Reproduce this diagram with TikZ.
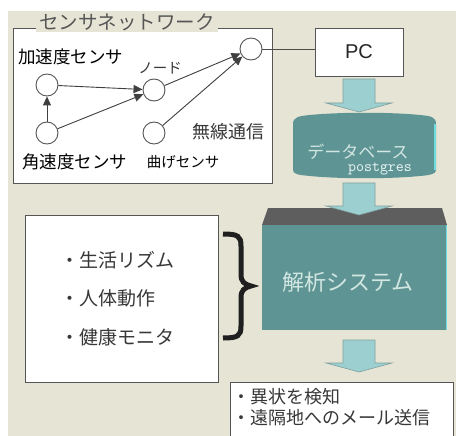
\documentclass[tikz,border=0pt]{standalone}
\usepackage{fontspec}
\setmainfont{Liberation Sans}
\newfontfamily\jp{Noto Sans CJK JP}
\usetikzlibrary{arrows.meta}
\definecolor{bg}{HTML}{E6E5D5}
\definecolor{tealbox}{HTML}{5E9594}
\definecolor{lteal}{HTML}{9CCFCF}
\definecolor{ltext}{HTML}{D2E6E2}
\definecolor{edgegrey}{HTML}{555555}
\definecolor{darkg}{HTML}{5E5E5E}
\definecolor{arredge}{HTML}{7F9F9F}
\definecolor{txtgrey}{HTML}{383838}
\begin{document}
\begin{tikzpicture}[x=1pt,y=-1pt,
  sens/.style={circle, draw=edgegrey, fill=white, minimum size=22pt, inner sep=0pt, line width=0.9pt},
  conn/.style={draw=black!75, line width=0.9pt, -{Triangle[length=9pt,width=8pt]}},
  whitebox/.style={draw=edgegrey, fill=white, line width=0.9pt, inner sep=0pt, anchor=north west},
  blockarrow/.style={fill=lteal, draw=arredge, line width=0.6pt},
  lbl/.style={inner sep=0pt, text=black},
  glbl/.style={inner sep=0pt, text=txtgrey}]
\useasboundingbox (0,0) rectangle (456,436);
\fill[white] (0,0) rectangle (456,436);
\fill[bg] (8,11) rectangle (456,436);

% sensor network box
\node[whitebox, minimum width=259pt, minimum height=155pt] (net) at (13,28) {};
\node[fill=bg, inner xsep=3pt, inner ysep=1pt, text=txtgrey!85, font=\jp\fontsize{19.5}{19.5}\selectfont] (title) at (127,22) {センサネットワーク};

\node[sens] (acc) at (47,85) {};
\node[sens] (gyro) at (47,133) {};
\node[sens] (nd) at (154,90) {};
\node[sens] (bend) at (154,133) {};
\node[sens] (sink) at (251,49) {};

\node[lbl, font=\jp\fontsize{17.5}{17.5}\selectfont] (acclbl) at (71,57) {加速度センサ};
\node[lbl, font=\jp\fontsize{17.5}{17.5}\selectfont] (gyrolbl) at (75,162) {角速度センサ};
\node[lbl, font=\jp\fontsize{14.5}{14.5}\selectfont] (bendlbl) at (183,162) {曲げセンサ};
\node[glbl, font=\jp\fontsize{14.5}{14.5}\selectfont] (ndlbl) at (160,68) {ノード};
\node[glbl, font=\jp\fontsize{18}{18}\selectfont] (wlbl) at (228,132) {無線通信};

\draw[conn] (acc) -- (nd);
\draw[conn] (gyro) -- (acc);
\draw[conn] (gyro) -- (nd);
\draw[conn] (nd) -- (sink);
\draw[conn] (bend) -- (sink);

% PC
\node[whitebox, minimum width=88pt, minimum height=48pt] (pc) at (315,28) {};
\node[lbl, text=black!85, font=\fontsize{20}{20}\selectfont] (pctext) at (359,52) {PC};
\draw[draw=black!70, line width=0.8pt] (sink) -- (pc.west |- sink);

% arrow PC -> DB
\draw[blockarrow] (343,79) -- (375,79) -- (375,103) -- (392,103) -- (359,112) -- (326,103) -- (343,103) -- cycle;

% database
\fill[tealbox] (293,170) -- (293,124) .. controls (293,117) and (299,116) .. (310,115)
  .. controls (340,112) and (390,112) .. (420,115) .. controls (431,116) and (436,117) .. (436,124)
  -- (436,170) .. controls (436,174) and (431,175) .. (420,176)
  .. controls (390,179) and (340,179) .. (310,176) .. controls (298,175) and (293,174) .. (293,170) -- cycle;
\draw[lteal!70!cyan, line width=1.5pt] (435,124) -- (435,170);
\node[inner sep=0pt, text=ltext, font=\jp\fontsize{17}{17}\selectfont] (dbtext) at (358,152) {データベース};
\node[inner sep=0pt, text=white!92!teal, font=\ttfamily\fontsize{15.5}{15.5}\selectfont] (pg) at (380,169) {postgres};

% analysis system
\fill[darkg] (268,208) -- (442,208) -- (447,225) -- (262,225) -- cycle;
\node[fill=tealbox, minimum width=185pt, minimum height=105pt, inner sep=0pt, anchor=north west] (ana) at (262,225) {};
\draw[lteal!70!cyan, line width=1.2pt] (446.4,225) -- (446.4,330);
\node[inner sep=0pt, text=ltext, font=\jp\fontsize{22}{22}\selectfont] (anatext) at (348,282) {解析システム};

% arrow DB -> analysis
\draw[blockarrow] (343,183) -- (375,183) -- (375,206) -- (392,206) -- (359,215) -- (326,206) -- (343,206) -- cycle;

% left list
\node[whitebox, minimum width=193pt, minimum height=167pt] (list) at (25,215) {};
\node[glbl, anchor=west, font=\jp\fontsize{19}{19}\selectfont] (l1) at (60,260) {・生活リズム};
\node[glbl, anchor=west, font=\jp\fontsize{19}{19}\selectfont] (l2) at (60,298) {・人体動作};
\node[glbl, anchor=west, font=\jp\fontsize{19}{19}\selectfont] (l3) at (60,337) {・健康モニタ};

% brace
\draw[black!88, line width=5pt] (223,234) .. controls (238,234) and (241,236) .. (241,246)
  -- (241,274) .. controls (241,282) and (244,284) .. (251,286)
  .. controls (244,288) and (241,290) .. (241,298) -- (241,326)
  .. controls (241,336) and (238,338) .. (223,338);

% arrow analysis -> result
\draw[blockarrow] (343,340) -- (375,340) -- (375,363) -- (392,363) -- (359,372) -- (326,363) -- (343,363) -- cycle;

% result box
\fill[white] (230,382) rectangle (453,440);
\draw[edgegrey, line width=0.9pt] (230,440) -- (230,382) -- (453,382) -- (453,440);
\coordinate (res) at (230,382);
\node[glbl, anchor=west, font=\jp\fontsize{18}{18}\selectfont] (r1) at (232,397) {・異状を検知};
\node[glbl, anchor=west, font=\jp\fontsize{18}{18}\selectfont] (r2) at (232,418) {・遠隔地へのメール送信};
\end{tikzpicture}
\end{document}
